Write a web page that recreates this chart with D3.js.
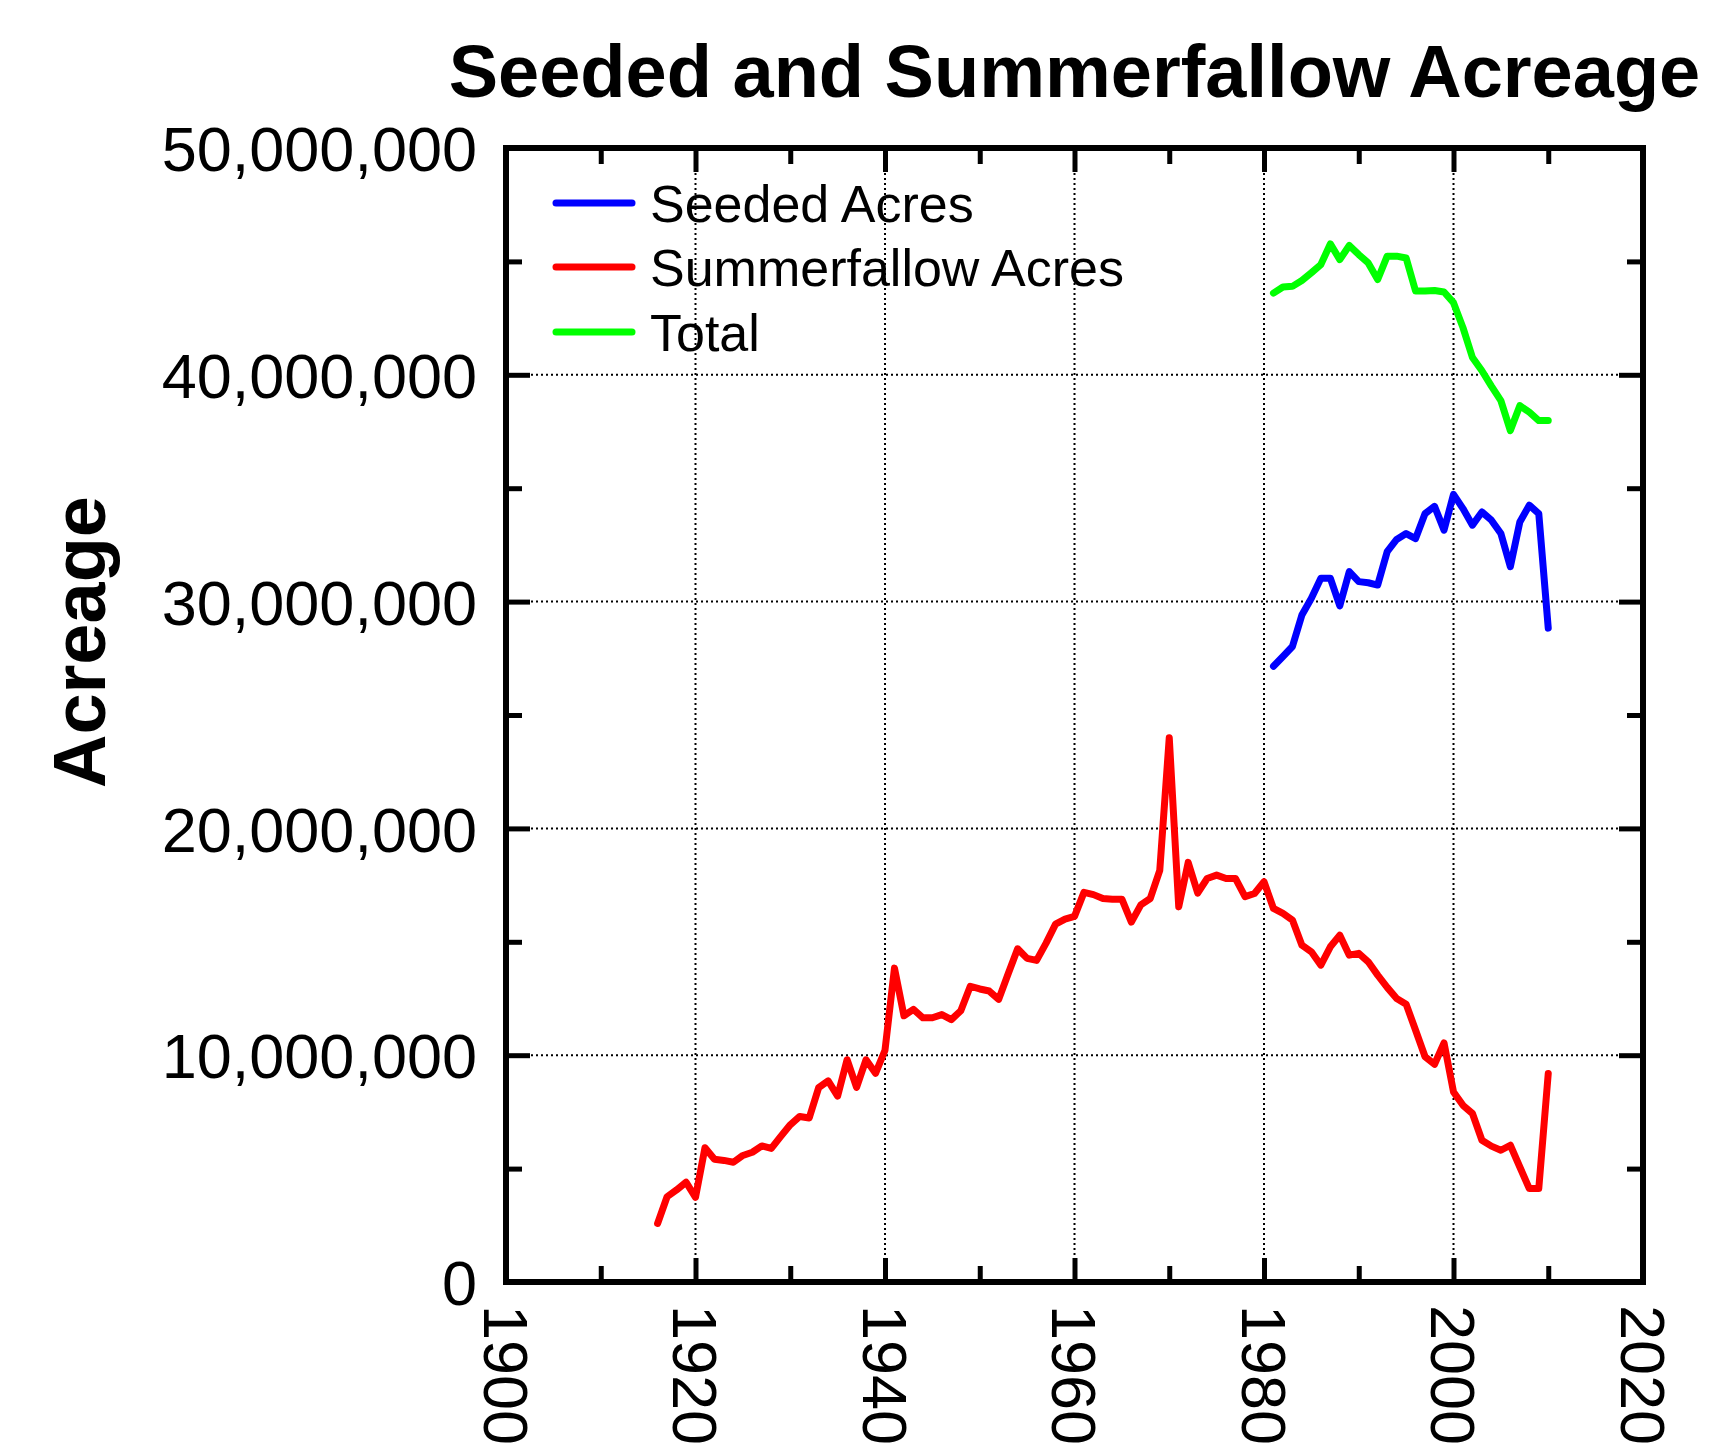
<!DOCTYPE html>
<html>
<head>
<meta charset="utf-8">
<script src="https://cdn.jsdelivr.net/npm/d3@7"></script>
<style>
  body { margin: 0; background: #fff; }
  svg { display: block; font-family: "Liberation Sans", Arial, Helvetica, sans-serif; }
  .grid line { stroke: #000; stroke-width: 2; stroke-dasharray: 2 3; }
  .tick line { stroke: #000; stroke-width: 5; }
  .series { fill: none; stroke-width: 7; stroke-linejoin: round; stroke-linecap: round; }
</style>
</head>
<body>
<div class="chart"></div>
<script>
// ========================================
// Data (acreage in millions of acres)
// ========================================
const seriesNames = ['Seeded Acres', 'Summerfallow Acres', 'Total'];
const seriesColors = ['#0000ff', '#ff0000', '#00ff00'];

const fallowYears = d3.range(1916, 2011);
const fallowAcres = [
  2.58, 3.76, 4.06, 4.40, 3.73, 5.92, 5.41, 5.36, 5.28, 5.58,
  5.72, 6.00, 5.89, 6.42, 6.93, 7.30, 7.23, 8.57, 8.87, 8.20,
  9.80, 8.58, 9.80, 9.20, 10.22, 13.84, 11.74, 12.02, 11.65, 11.65,
  11.79, 11.57, 11.96, 13.04, 12.92, 12.83, 12.46, 13.59, 14.69, 14.27,
  14.18, 14.94, 15.78, 16.00, 16.12, 17.18, 17.08, 16.91, 16.88, 16.88,
  15.87, 16.63, 16.91, 18.15, 24.00, 16.54, 18.50, 17.15, 17.79, 17.94,
  17.79, 17.79, 16.99, 17.13, 17.65, 16.47, 16.25, 15.96, 14.85, 14.56,
  13.97, 14.78, 15.29, 14.41, 14.49, 14.12, 13.53, 12.99, 12.50, 12.25,
  11.10, 9.93, 9.60, 10.54, 8.38, 7.79, 7.43, 6.25, 5.99, 5.81,
  6.03, 5.07, 4.12, 4.12, 9.19
];

const seededYears = d3.range(1981, 2011);
const seededAcres = [
  27.15, 27.58, 28.02, 29.41, 30.15, 31.03, 31.03, 29.81, 31.32, 30.88,
  30.83, 30.73, 32.20, 32.74, 33.00, 32.78, 33.88, 34.20, 33.15, 34.73,
  34.10, 33.37, 33.95, 33.59, 33.00, 31.54, 33.51, 34.25, 33.88, 28.83
];
const totalAcres = [
  43.60, 43.87, 43.90, 44.16, 44.50, 44.86, 45.77, 45.08, 45.70, 45.30,
  44.93, 44.20, 45.23, 45.23, 45.15, 43.69, 43.69, 43.72, 43.65, 43.18,
  42.08, 40.76, 40.18, 39.50, 38.86, 37.54, 38.64, 38.35, 37.98, 37.98
];

const xMajor = [1900, 1920, 1940, 1960, 1980, 2000, 2020];
const xMinor = [1910, 1930, 1950, 1970, 1990, 2010];
const yMajor = [0, 10e6, 20e6, 30e6, 40e6, 50e6];
const yMinor = [5e6, 15e6, 25e6, 35e6, 45e6];

// ========================================
// Layout
// ========================================
const width = 1714, height = 1447;
const pLeft = 506, pRight = 1643, pTop = 148, pBottom = 1282;
const majorLen = 24, minorLen = 16;

const svg = d3.select('.chart').append('svg')
  .attr('width', width)
  .attr('height', height);

const x = d3.scaleLinear().domain([1900, 2020]).range([pLeft, pRight]);
const y = d3.scaleLinear().domain([0, 50e6]).range([pBottom, pTop]);

// --- grid (dotted, major ticks only, inside the frame)
const grid = svg.append('g').attr('class', 'grid');
grid.selectAll('.gx').data(xMajor.slice(1, -1)).enter().append('line')
  .attr('x1', d => x(d)).attr('x2', d => x(d))
  .attr('y1', pTop).attr('y2', pBottom);
grid.selectAll('.gy').data(yMajor.slice(1, -1)).enter().append('line')
  .attr('x1', pLeft).attr('x2', pRight)
  .attr('y1', d => y(d)).attr('y2', d => y(d));

// --- axes: ticks point inwards on all four sides
function addAxis(axis, tx, ty, cls) {
  const g = svg.append('g')
    .attr('class', cls)
    .attr('transform', `translate(${tx},${ty})`)
    .call(axis);
  g.select('.domain').remove();
  return g;
}

const xBottom = addAxis(d3.axisBottom(x).tickValues(xMajor).tickSize(-majorLen).tickPadding(0).tickFormat(d3.format('d')), 0, pBottom, 'x-axis');
addAxis(d3.axisBottom(x).tickValues(xMinor).tickSize(-minorLen).tickFormat(''), 0, pBottom, 'x-minor');
addAxis(d3.axisTop(x).tickValues(xMajor).tickSize(-majorLen).tickFormat(''), 0, pTop, 'x-top');
addAxis(d3.axisTop(x).tickValues(xMinor).tickSize(-minorLen).tickFormat(''), 0, pTop, 'x-top-minor');

const yLeft = addAxis(d3.axisLeft(y).tickValues(yMajor).tickSize(-majorLen).tickFormat(d3.format(',')), pLeft, 0, 'y-axis');
addAxis(d3.axisLeft(y).tickValues(yMinor).tickSize(-minorLen).tickFormat(''), pLeft, 0, 'y-minor');
addAxis(d3.axisRight(y).tickValues(yMajor).tickSize(-majorLen).tickFormat(''), pRight, 0, 'y-right');
addAxis(d3.axisRight(y).tickValues(yMinor).tickSize(-minorLen).tickFormat(''), pRight, 0, 'y-right-minor');

// year labels, turned to read downwards
xBottom.selectAll('text')
  .attr('x', 0).attr('y', 0).attr('dy', '0.358em')
  .attr('transform', 'translate(0,23) rotate(90)')
  .style('text-anchor', 'start')
  .style('font-size', '63px')
  .style('fill', '#000');

yLeft.selectAll('text')
  .attr('x', -(pLeft - 477)).attr('dy', '0.36em')
  .style('text-anchor', 'end')
  .style('font-size', '63px')
  .style('fill', '#000');

// --- data lines
const line = d3.line().x(d => x(d[0])).y(d => y(d[1] * 1e6));
const series = [
  { name: seriesNames[0], color: seriesColors[0], pts: d3.zip(seededYears, seededAcres) },
  { name: seriesNames[1], color: seriesColors[1], pts: d3.zip(fallowYears, fallowAcres) },
  { name: seriesNames[2], color: seriesColors[2], pts: d3.zip(seededYears, totalAcres) }
];
svg.selectAll('.series').data(series).enter().append('path')
  .attr('class', 'series')
  .attr('stroke', d => d.color)
  .attr('d', d => line(d.pts));

// --- frame
svg.append('rect')
  .attr('x', pLeft).attr('y', pTop)
  .attr('width', pRight - pLeft).attr('height', pBottom - pTop)
  .attr('fill', 'none').attr('stroke', '#000').attr('stroke-width', 6);

// --- legend
const legend = svg.append('g').attr('class', 'legend');
const legendY = [203, 267, 332];
legend.selectAll('line').data(series).enter().append('line')
  .attr('x1', 556).attr('x2', 632)
  .attr('y1', (d, i) => legendY[i]).attr('y2', (d, i) => legendY[i])
  .attr('stroke', d => d.color)
  .attr('stroke-width', 7)
  .attr('stroke-linecap', 'round');
legend.selectAll('text').data(series).enter().append('text')
  .attr('x', 650)
  .attr('y', (d, i) => legendY[i])
  .attr('dy', '0.36em')
  .style('font-size', '52px')
  .text(d => d.name);

// --- titles
svg.append('text')
  .attr('x', (pLeft + pRight) / 2)
  .attr('y', 97)
  .attr('text-anchor', 'middle')
  .style('font-size', '74px')
  .style('font-weight', 'bold')
  .text('Seeded and Summerfallow Acreage');

svg.append('text')
  .attr('transform', 'translate(105,642) rotate(-90)')
  .attr('text-anchor', 'middle')
  .style('font-size', '74px')
  .style('font-weight', 'bold')
  .text('Acreage');
</script>
</body>
</html>
